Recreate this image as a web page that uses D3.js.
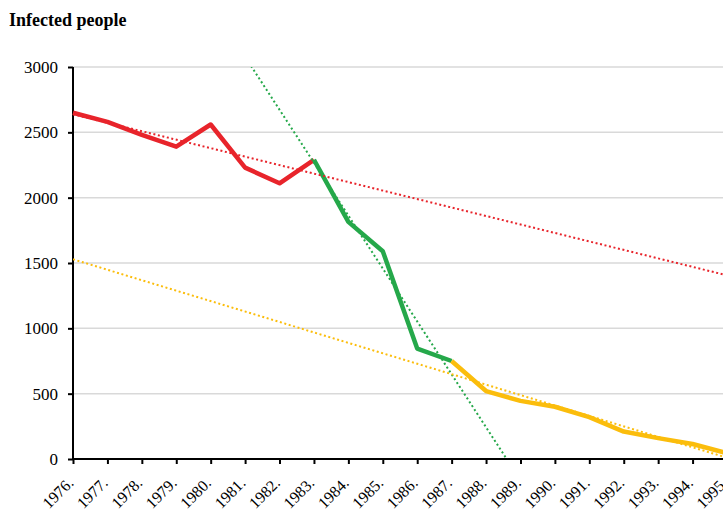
<!DOCTYPE html>
<html lang="en">
<head>
<meta charset="utf-8">
<title>Infected people</title>
<script src="https://cdn.jsdelivr.net/npm/d3@7"></script>
<style>
body { margin: 0; background: #fff; }
</style>
</head>
<body>
<script>
// data
var years = [1976, 1977, 1978, 1979, 1980, 1981, 1982, 1983, 1984, 1985,
             1986, 1987, 1988, 1989, 1990, 1991, 1992, 1993, 1994, 1995];
var redYears = [1976, 1977, 1978, 1979, 1980, 1981, 1982, 1983];
var redValues = [2650, 2580, 2480, 2390, 2560, 2230, 2110, 2290];
var greenYears = [1983, 1984, 1985, 1986, 1987];
var greenValues = [2290, 1815, 1590, 845, 750];
var yellowYears = [1987, 1988, 1989, 1990, 1991, 1992, 1993, 1994, 1995];
var yellowValues = [750, 520, 445, 400, 320, 210, 160, 115, 45];
var yTicks = [0, 500, 1000, 1500, 2000, 2500, 3000];

var serif = "'Liberation Serif', 'Times New Roman', Times, serif";
var width = 723, height = 513;
var svg = d3.select("body").append("svg")
    .attr("width", width)
    .attr("height", height)
    .style("font-family", serif);

var x = d3.scaleLinear().domain([1976, 1995]).range([73, 727]);
var y = d3.scaleLinear().domain([0, 3000]).range([459, 67]);

// title
svg.append("text")
    .attr("x", 9)
    .attr("y", 26)
    .style("font-family", serif)
    .style("font-size", "18px")
    .style("font-weight", "bold")
    .text("Infected people");

// gridlines
svg.selectAll(".grid")
    .data(yTicks.filter(function(d) { return d > 0; }))
    .enter().append("line")
    .attr("x1", x(1976)).attr("x2", width)
    .attr("y1", function(d) { return y(d); })
    .attr("y2", function(d) { return y(d); })
    .attr("stroke", "#d9d9d9")
    .attr("stroke-width", 1.5);

// y axis
var yAxis = svg.append("g")
    .attr("transform", "translate(" + x(1976) + ",0)")
    .call(d3.axisLeft(y).tickValues(yTicks).tickSize(5).tickPadding(10).tickFormat(d3.format("d")))
    .attr("font-family", serif);
yAxis.select(".domain").attr("stroke-width", 2).attr("d", "M0," + y(3000) + "V" + y(0));
yAxis.selectAll(".tick line").attr("stroke-width", 2);
yAxis.selectAll("text").style("font-family", serif).style("font-size", "17px");

// x axis
var xAxis = svg.append("g")
    .attr("transform", "translate(0," + y(0) + ")")
    .call(d3.axisBottom(x).tickValues(years).tickSize(5).tickFormat(function(d) { return d + "."; }))
    .attr("font-family", serif);
xAxis.select(".domain").attr("stroke-width", 2).attr("d", "M" + x(1976) + ",0H" + width);
xAxis.selectAll(".tick line").attr("stroke-width", 2);
xAxis.selectAll("text")
    .style("font-family", serif)
    .style("font-size", "16px")
    .attr("text-anchor", "end")
    .attr("dy", null)
    .attr("y", 0)
    .attr("transform", "translate(1,25) rotate(-45)");

// clip for trend lines
svg.append("clipPath").attr("id", "plot")
    .append("rect")
    .attr("x", x(1976)).attr("y", y(3000))
    .attr("width", width - x(1976)).attr("height", y(0) - y(3000));

var line = d3.line()
    .x(function(d) { return x(d[0]); })
    .y(function(d) { return y(d[1]); });

// least squares trend over a series, drawn across all years
function trend(xs, ys) {
    var mx = d3.mean(xs), my = d3.mean(ys);
    var sxy = d3.sum(xs, function(v, i) { return (v - mx) * (ys[i] - my); });
    var sxx = d3.sum(xs, function(v) { return (v - mx) * (v - mx); });
    var b = sxy / sxx;
    return [[1976, my + b * (1976 - mx)], [1995, my + b * (1995 - mx)]];
}

var series = [
    {xs: redYears, ys: redValues, color: "#e8242b"},
    {xs: greenYears, ys: greenValues, color: "#25a84a"},
    {xs: yellowYears, ys: yellowValues, color: "#fbbd0c"}
];

series.forEach(function(s) {
    svg.append("path")
        .datum(d3.zip(s.xs, s.ys))
        .attr("d", line)
        .attr("fill", "none")
        .attr("stroke", s.color)
        .attr("stroke-width", 4.5)
        .attr("stroke-linejoin", "round");
});

series.forEach(function(s) {
    svg.append("path")
        .datum(trend(s.xs, s.ys))
        .attr("d", line)
        .attr("clip-path", "url(#plot)")
        .attr("fill", "none")
        .attr("stroke", s.color)
        .attr("stroke-width", 2)
        .attr("stroke-dasharray", "2,2.6");
});
</script>
</body>
</html>
